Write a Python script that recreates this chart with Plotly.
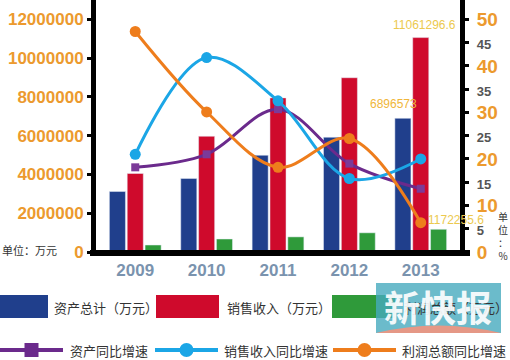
import plotly.graph_objects as go

years = ["2009", "2010", "2011", "2012", "2013"]
assets = [3120000, 3790000, 4990000, 5920000, 6896573]
sales = [4050000, 5970000, 7950000, 8990000, 11061296.6]
profit = [360000, 670000, 780000, 990000, 1172255.6]
assets_growth = [18.2, 21.0, 30.7, 19.0, 13.6]
sales_growth = [21.0, 41.8, 32.5, 15.8, 20.0]
profit_growth = [47.4, 30.1, 18.2, 24.4, 6.3]

left_ticks = [0, 2000000, 4000000, 6000000, 8000000, 10000000, 12000000]
right_ticks = [0, 5, 10, 15, 20, 25, 30, 35, 40, 45, 50]

W, H = 510, 360
L, R, T, B = 96, 460, 0, 252

def px(x):
    return (x - L) / (R - L)

def py(y):
    return (B - y) / (B - T)

xs = list(range(len(years)))
C_BLUE, C_RED, C_GREEN = "#203f8c", "#cf0a2c", "#2f9a3a"
C_PURPLE, C_LBLUE, C_ORANGE = "#6b2a8c", "#1ba6e6", "#ee7d1c"
TXT = "Noto Sans CJK SC"
NUM = "Liberation Sans"

fig = go.Figure()
fig.add_bar(x=xs, y=assets, marker_color=C_BLUE, name="资产总计（万元）")
fig.add_bar(x=xs, y=sales, marker_color=C_RED, name="销售收入（万元）")
fig.add_bar(x=xs, y=profit, marker_color=C_GREEN, name="利润总额（万元）")
fig.add_scatter(x=xs, y=assets_growth, yaxis="y2", mode="lines+markers",
                line=dict(color=C_PURPLE, width=3, shape="spline"),
                marker=dict(symbol="square", size=8, color="#7b3a98"), name="资产同比增速")
fig.add_scatter(x=xs, y=sales_growth, yaxis="y2", mode="lines+markers",
                line=dict(color=C_LBLUE, width=3, shape="spline"),
                marker=dict(symbol="circle", size=11, color=C_LBLUE), name="销售收入同比增速")
fig.add_scatter(x=xs, y=profit_growth, yaxis="y2", mode="lines+markers",
                line=dict(color=C_ORANGE, width=3, shape="spline"),
                marker=dict(symbol="circle", size=11, color=C_ORANGE), name="利润总额同比增速")

right_text = []
for v in right_ticks:
    if v % 10 == 0:
        right_text.append(str(v))
    else:
        right_text.append('<span style="font-size:13px;fill:#555555">%d</span>' % v)

fig.update_layout(
    width=W, height=H, margin=dict(l=L, r=W - R, t=T, b=H - B, autoexpand=False),
    paper_bgcolor="white", plot_bgcolor="white",
    barmode="group", bargap=0.25, bargroupgap=0.1, showlegend=False,
    xaxis=dict(range=[-0.55, 4.55], tickmode="array", tickvals=xs, ticktext=years,
               showgrid=False, zeroline=False, showline=False, ticks="", automargin=False,
               ticklabelstandoff=6,
               tickfont=dict(family=NUM, size=17, color="#7a93ae", weight="bold")),
    yaxis=dict(range=[0, 13000000], tickmode="array", tickvals=left_ticks,
               ticktext=[str(v) for v in left_ticks], showgrid=False, zeroline=False,
               showline=True, linecolor="black", linewidth=5, ticks="outside",
               ticklen=4, tickwidth=3, tickcolor="black", automargin=False,
               tickfont=dict(family=NUM, size=17, color="#ec9a2e", weight="bold")),
    yaxis2=dict(range=[0, 54.17], overlaying="y", side="right", tickmode="array",
                tickvals=right_ticks, ticktext=right_text, showgrid=False, zeroline=False,
                showline=True, linecolor="black", linewidth=5, ticks="outside",
                ticklen=4, tickwidth=3, tickcolor="black", automargin=False,
                ticklabelstandoff=4,
                tickfont=dict(family=NUM, size=19, color="#ec9a2e", weight="bold")),
)

shapes = []
annos = []
# bottom thick baseline
shapes.append(dict(type="rect", xref="paper", yref="paper", x0=px(90), x1=px(470),
                   y0=py(256), y1=py(250), fillcolor="black", line=dict(width=0), layer="above"))

# data labels
annos.append(dict(x=4, y=sales[4], xref="x", yref="y", text="11061296.6", showarrow=False,
                  xshift=4, yshift=13, font=dict(family=NUM, size=12, color="#ecc94e")))
annos.append(dict(x=4, y=assets[4], xref="x", yref="y", text="6896573", showarrow=False,
                  xshift=-27, yshift=14, font=dict(family=NUM, size=12, color="#f0b63a")))
annos.append(dict(x=4, y=profit[4], xref="x", yref="y", text="1172255.6", showarrow=False,
                  xshift=35, yshift=9, font=dict(family=NUM, size=12, color="#ecc94e")))

# unit labels
annos.append(dict(x=px(0), y=py(250), xref="paper", yref="paper", xanchor="left", yanchor="middle",
                  text="单位：万元", showarrow=False, font=dict(family=TXT, size=11, color="#333333")))
annos.append(dict(x=px(503), y=py(236), xref="paper", yref="paper", xanchor="center", yanchor="middle",
                  text="单<br>位<br>：<br>%", showarrow=False,
                  font=dict(family=TXT, size=10, color="#333333")))

# legend row 1 (bars)
bar_leg = [(0, 48, C_BLUE, 52, "资产总计（万元）"),
           (156, 219, C_RED, 225, "销售收入（万元）"),
           (332, 395, C_GREEN, 402, "利润总额（万元）")]
for x0, x1, col, tx, label in bar_leg:
    shapes.append(dict(type="rect", xref="paper", yref="paper", x0=px(x0), x1=px(x1),
                       y0=py(318), y1=py(295), fillcolor=col, line=dict(width=0)))
    annos.append(dict(x=px(tx), y=py(307), xref="paper", yref="paper", xanchor="left",
                      yanchor="middle", text=label, showarrow=False,
                      font=dict(family=TXT, size=13, color="#333333")))

# legend row 2 (lines)
line_leg = [(0, 63, C_PURPLE, "square", 68, "资产同比增速"),
            (155, 218, C_LBLUE, "circle", 222, "销售收入同比增速"),
            (333, 396, C_ORANGE, "circle", 400, "利润总额同比增速")]
for x0, x1, col, sym, tx, label in line_leg:
    shapes.append(dict(type="line", xref="paper", yref="paper", x0=px(x0), x1=px(x1),
                       y0=py(350), y1=py(350), line=dict(color=col, width=4)))
    cx = (x0 + x1) / 2
    r = 7
    shapes.append(dict(type="rect" if sym == "square" else "circle", xref="paper", yref="paper",
                       x0=px(cx - r), x1=px(cx + r), y0=py(350 + r), y1=py(350 - r),
                       fillcolor=col, line=dict(width=0)))
    annos.append(dict(x=px(tx), y=py(350), xref="paper", yref="paper", xanchor="left",
                      yanchor="middle", text=label, showarrow=False,
                      font=dict(family=TXT, size=13, color="#333333")))

# newspaper watermark
shapes.append(dict(type="rect", xref="paper", yref="paper", x0=px(376), x1=px(501),
                   y0=py(333), y1=py(283), fillcolor="rgba(70,170,190,0.8)", line=dict(width=0)))
shapes.append(dict(type="path", xref="paper", yref="paper",
                   path="M %f %f Q %f %f %f %f L %f %f Z" % (px(376), py(333), px(438), py(318),
                                                              px(501), py(333), px(376), py(333)),
                   fillcolor="rgba(236,150,130,0.95)", line=dict(width=0)))
annos.append(dict(x=px(438), y=py(306), xref="paper", yref="paper", xanchor="center",
                  yanchor="middle", text="<b>新快报</b>", showarrow=False,
                  font=dict(family=TXT, size=36, color="rgba(255,255,255,0.92)")))

fig.update_layout(shapes=shapes, annotations=annos)
fig.write_html("out.html", config={"displayModeBar": False},
               post_script="document.body.style.margin='0';document.body.style.padding='0';")
